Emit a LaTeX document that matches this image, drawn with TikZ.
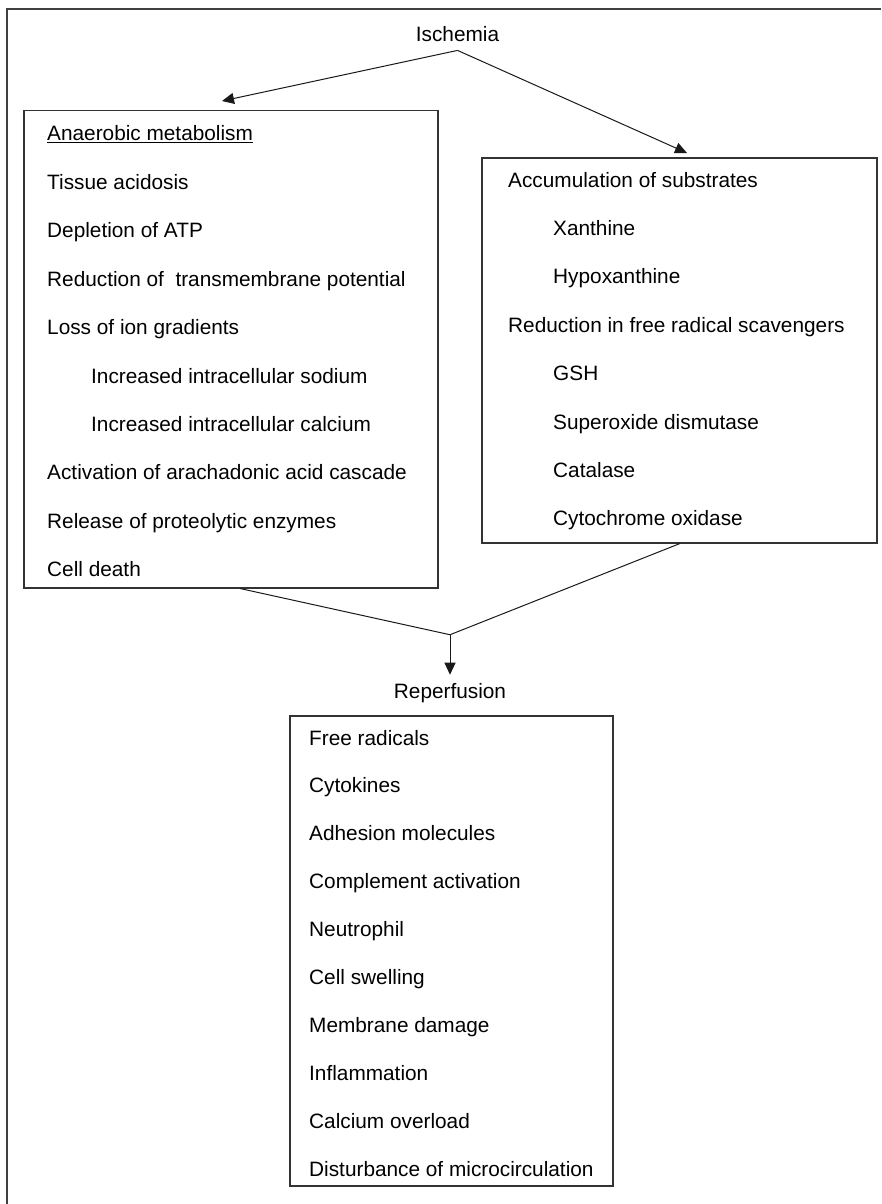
\documentclass[tikz,border=0pt]{standalone}
\usepackage{fontspec}
\setmainfont{Liberation Sans}
\usetikzlibrary{arrows.meta,positioning}

\begin{document}
\begin{tikzpicture}[
		x=1pt, y=-1pt,
		node distance=29pt,
		term/.style  = {font=\fontsize{20.8}{24}\selectfont, inner sep=8pt},
		panel/.style = {rectangle, draw=black!80, line width=1.5pt,
			anchor=north west, inner sep=0pt},
		item/.style  = {font=\fontsize{20.8}{24}\selectfont, inner sep=0pt,
			text height=15pt, text depth=4pt, anchor=north west},
		line/.style  = {draw, line width=1pt, black!90},
		flow/.style  = {line, -{Triangle[length=12pt,width=11pt]}},
	]
	\useasboundingbox (0,0) rectangle (881,1204);
	% frame (top and left only)
	\draw[line width=1.6pt, black!75] (7,1204) -- (7,9) -- (881,9);
	% boxes and titles
	\begin{scope}
		\node [term, anchor=base] (isch) at (457.5,42) {Ischemia};
		\node [panel, minimum width=414pt, minimum height=477pt] (anaer) at (23,110) {};
		\node [panel, minimum width=395pt, minimum height=385pt] (subst) at (481,157) {};
		\node [term, anchor=base] (rep) at (450,698) {Reperfusion};
		\node [panel, minimum width=323pt, minimum height=470pt] (injury) at (289,715) {};
	\end{scope}
	% left box
	\begin{scope}
		\node [item, anchor=base west] (anaer1) at ([shift={(24pt,-31pt)}]anaer.north west) {\underline{Anaerobic metabolism}};
		\node [below=of anaer1.south west, item] (anaer2) {Tissue acidosis};
		\node [below=of anaer2.south west, item] (anaer3) {Depletion of ATP};
		\node [below=of anaer3.south west, item] (anaer4) {Reduction of \ transmembrane potential};
		\node [below=of anaer4.south west, item] (anaer5) {Loss of ion gradients};
		\node [below=of anaer5.south west, item, xshift=44pt] (anaer6) {Increased intracellular sodium};
		\node [below=of anaer6.south west, item] (anaer7) {Increased intracellular calcium};
		\node [below=of anaer7.south west, item, xshift=-44pt] (anaer8) {Activation of arachadonic acid cascade};
		\node [below=of anaer8.south west, item] (anaer9) {Release of proteolytic enzymes};
		\node [below=of anaer9.south west, item] (anaer10) {Cell death};
	\end{scope}
	% right box
	\begin{scope}
		\node [item, anchor=base west] (subst1) at ([shift={(27pt,-30pt)}]subst.north west) {Accumulation of substrates};
		\node [below=of subst1.south west, item, xshift=45pt] (subst2) {Xanthine};
		\node [below=of subst2.south west, item] (subst3) {Hypoxanthine};
		\node [below=of subst3.south west, item, xshift=-45pt] (subst4) {Reduction in free radical scavengers};
		\node [below=of subst4.south west, item, xshift=45pt] (subst5) {GSH};
		\node [below=of subst5.south west, item] (subst6) {Superoxide dismutase};
		\node [below=of subst6.south west, item] (subst7) {Catalase};
		\node [below=of subst7.south west, item] (subst8) {Cytochrome oxidase};
	\end{scope}
	% bottom box
	\begin{scope}[node distance=28.5pt]
		\node [item, anchor=base west] (injury1) at ([shift={(20pt,-30pt)}]injury.north west) {Free radicals};
		\node [below=of injury1.south west, item] (injury2) {Cytokines};
		\node [below=of injury2.south west, item] (injury3) {Adhesion molecules};
		\node [below=of injury3.south west, item] (injury4) {Complement activation};
		\node [below=of injury4.south west, item] (injury5) {Neutrophil};
		\node [below=of injury5.south west, item] (injury6) {Cell swelling};
		\node [below=of injury6.south west, item] (injury7) {Membrane damage};
		\node [below=of injury7.south west, item] (injury8) {Inflammation};
		\node [below=of injury8.south west, item] (injury9) {Calcium overload};
		\node [below=of injury9.south west, item] (injury10) {Disturbance of microcirculation};
	\end{scope}
	% free ends of the connectors
	\coordinate (tipL) at ([shift={(199pt,9pt)}]anaer.north west);
	\coordinate (tipR) at ([shift={(206pt,4pt)}]subst.north west);
	\coordinate (join) at ([yshift=40pt]rep.north);
	% connect all nodes
	\begin{scope}[every path/.style=line]
		\path[flow] (isch.south) -- (tipL);
		\path[flow] (isch.south) -- (tipR);
		\path ([xshift=217pt]anaer.south west) -- (join) -- ([xshift=199pt]subst.south west);
		\path[flow] (join) -- (rep.north);
	\end{scope}
\end{tikzpicture}
\end{document}
